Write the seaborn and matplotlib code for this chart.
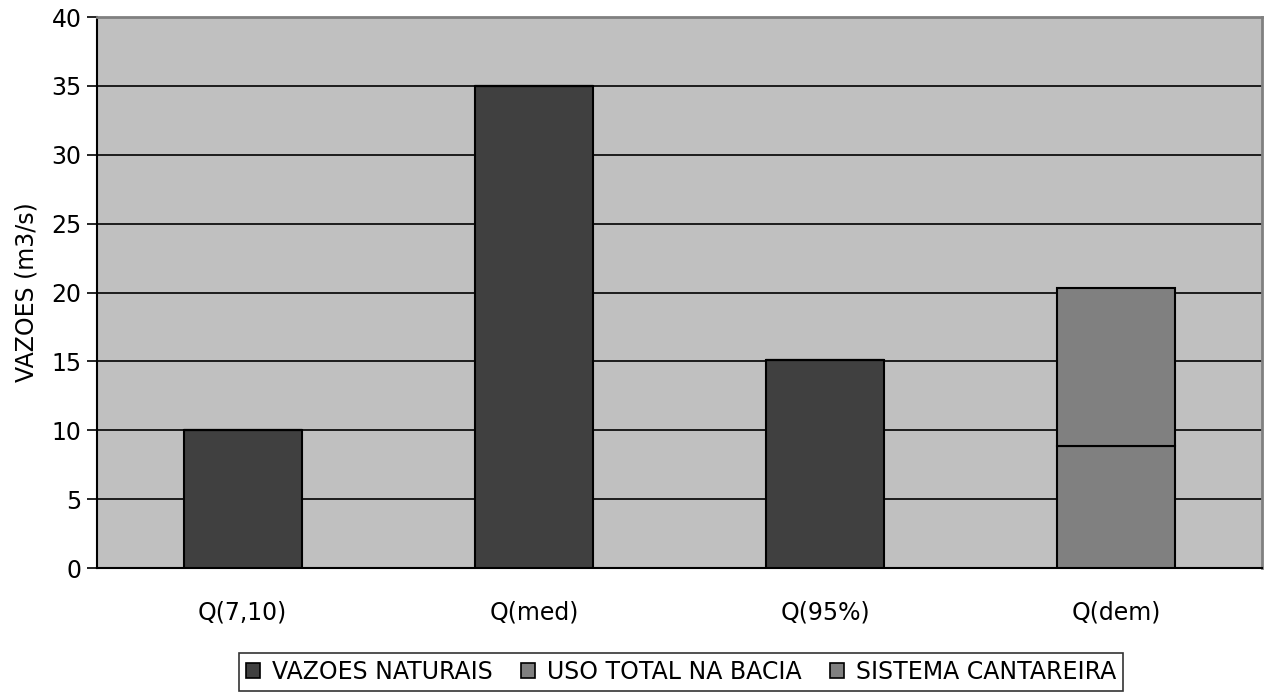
import matplotlib
matplotlib.use("Agg")
import matplotlib.pyplot as plt
import seaborn as sns
import numpy as np
from matplotlib.patches import Patch

categories = ["Q(7,10)", "Q(med)", "Q(95%)", "Q(dem)"]
vazoes_naturais = [10.0, 35.0, 15.1, 0.0]
uso_total_bacia = [0.0, 0.0, 0.0, 8.9]
sistema_cantareira = [0.0, 0.0, 0.0, 11.4]

series_names = ["VAZOES NATURAIS", "USO TOTAL NA BACIA", "SISTEMA CANTAREIRA"]
series_values = [vazoes_naturais, uso_total_bacia, sistema_cantareira]
series_colors = ["#404040", "#808080", "#808080"]

sns.set_theme(style="white")
plt.rcParams["font.family"] = ["DejaVu Sans"]
plt.rcParams["text.color"] = "black"
plt.rcParams["axes.labelcolor"] = "black"
plt.rcParams["xtick.color"] = "black"
plt.rcParams["ytick.color"] = "black"

FS = 17

fig = plt.figure(figsize=(12.71, 6.98), dpi=100)
ax = fig.add_axes([0.0763, 0.186, 0.9167, 0.7896])
ax.set_facecolor("#C0C0C0")

bottom = np.zeros(len(categories))
for name, vals, col in zip(series_names, series_values, series_colors):
    vals = np.array(vals, dtype=float)
    sns.barplot(x=categories, y=vals, bottom=bottom, color=col, width=0.405,
                edgecolor="black", linewidth=1.5, saturation=1, ax=ax, zorder=3)
    bottom = bottom + vals

ax.set_xlim(-0.5, len(categories) - 0.5)
ax.set_ylim(0, 40)
ax.set_yticks(np.arange(0, 41, 5))
ax.yaxis.grid(True, color="black", linewidth=1.2, zorder=1)
ax.set_axisbelow(True)

# category separators on the x axis
ax.set_xticks(np.arange(len(categories)))
ax.set_xticklabels(categories, fontsize=FS)
ax.set_xticks(np.arange(-0.5, len(categories)), minor=True)
ax.tick_params(axis="x", which="major", length=0, pad=23)
ax.tick_params(axis="x", which="minor", direction="in", length=8, width=1.2, color="black")
ax.tick_params(axis="y", direction="out", length=7, width=1.2, color="black",
               labelsize=FS, left=True, pad=4)

ax.set_xlabel("")
ax.set_ylabel("VAZOES (m3/s)", fontsize=FS, labelpad=9)

for side in ["left", "bottom"]:
    ax.spines[side].set_color("black")
    ax.spines[side].set_linewidth(1.5)
for side in ["top", "right"]:
    ax.spines[side].set_color("#808080")
    ax.spines[side].set_linewidth(2)

handles = [Patch(facecolor=c, edgecolor="black", linewidth=1.2) for c in series_colors]
leg = fig.legend(handles, series_names, loc="center", bbox_to_anchor=(0.536, 0.0372),
                 ncol=3, fontsize=FS, frameon=True, fancybox=False, handlelength=0.6,
                 handleheight=0.6, handletextpad=0.5, columnspacing=1.2,
                 borderpad=0.3, edgecolor="black")
leg.get_frame().set_linewidth(1.2)

fig.savefig("out.png", dpi=100)
